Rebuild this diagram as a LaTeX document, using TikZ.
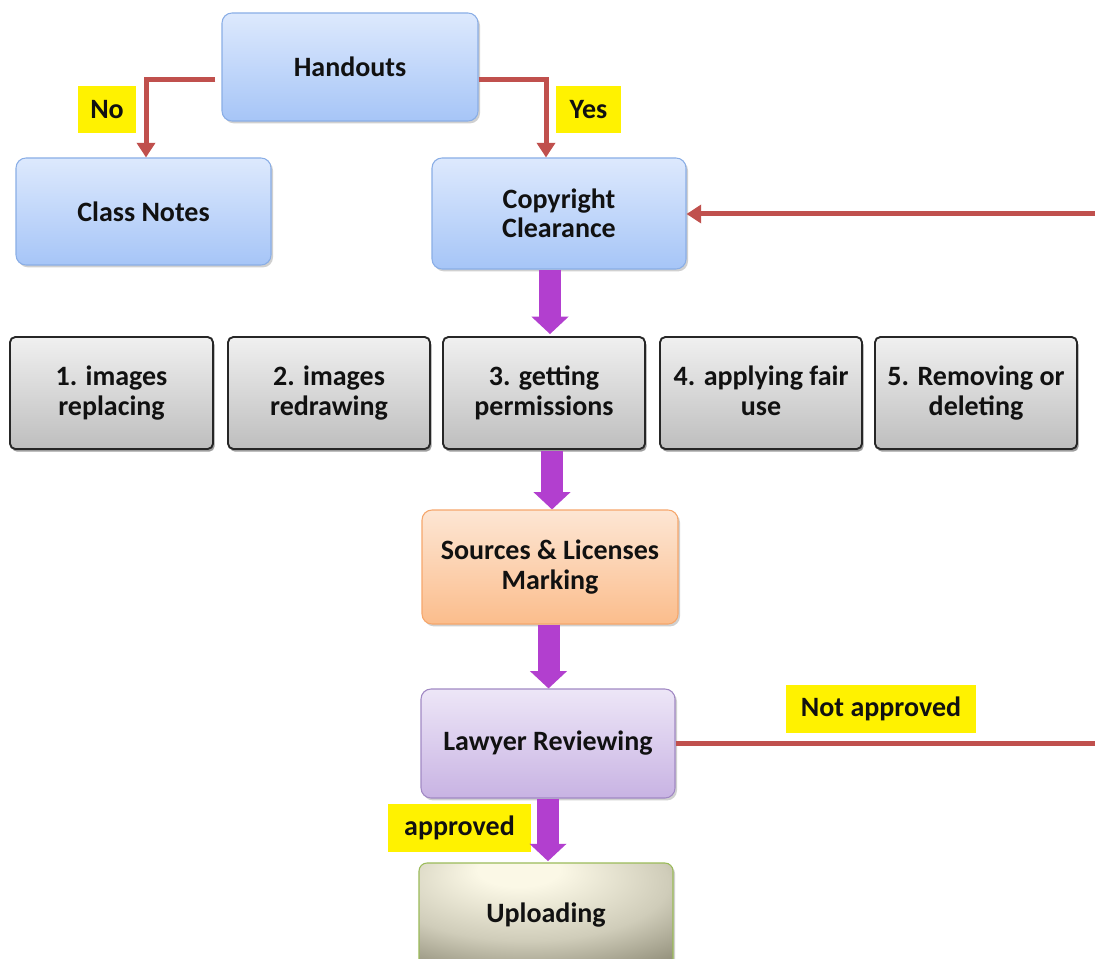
\documentclass[tikz,border=0pt]{standalone}
\usepackage{fontspec}
\setmainfont{Carlito}
\usetikzlibrary{arrows.meta,shadows,calc}
\definecolor{bluetop}{HTML}{DDE9FD}
\definecolor{bluebot}{HTML}{A6C5F7}
\definecolor{blueedge}{HTML}{8AAEE6}
\definecolor{orgtop}{HTML}{FDE6D4}
\definecolor{orgbot}{HTML}{FBBD8C}
\definecolor{orgedge}{HTML}{F6A76C}
\definecolor{purtop}{HTML}{EDE6F7}
\definecolor{purbot}{HTML}{C8B3E3}
\definecolor{puredge}{HTML}{A189C4}
\definecolor{graytop}{HTML}{F0F0F0}
\definecolor{graybot}{HTML}{BEBEBE}
\definecolor{upin}{HTML}{FBF8E6}
\definecolor{upout}{HTML}{7F7C67}
\definecolor{upedge}{HTML}{9BBB59}
\definecolor{redline}{HTML}{C0504D}
\definecolor{purarrow}{HTML}{B23FCF}
\definecolor{txt}{HTML}{111111}
\pgfdeclareradialshading{upshade}{\pgfpoint{-6bp}{24bp}}{color(0bp)=(upin); color(8bp)=(upin); color(28bp)=(upin!65!upout); color(48bp)=(upout); color(80bp)=(upout!85!black)}
\begin{document}
\begin{tikzpicture}[x=0.75pt,y=-0.75pt,
  every node/.style={font=\bfseries\fontsize{21}{22}\selectfont, text=txt, align=center, inner sep=0pt},
  sz/.style 2 args={minimum width=#1*0.75pt, minimum height=#2*0.75pt},
  shad/.style={drop shadow={shadow xshift=1.5pt, shadow yshift=-1.8pt, opacity=0.3, fill=black!60}},
  bluebox/.style={rectangle, rounded corners=7.5pt, draw=blueedge, line width=0.8pt, top color=bluetop, bottom color=bluebot, shad},
  orangebox/.style={rectangle, rounded corners=7.5pt, draw=orgedge, line width=0.8pt, top color=orgtop, bottom color=orgbot, shad},
  purplebox/.style={rectangle, rounded corners=7.5pt, draw=puredge, line width=0.8pt, top color=purtop, bottom color=purbot, shad},
  graybox/.style={rectangle, rounded corners=4pt, draw=black!85, line width=1.4pt, top color=graytop, bottom color=graybot,
    drop shadow={shadow xshift=1.2pt, shadow yshift=-2pt, opacity=0.55, fill=black!70}},
  upbox/.style={rectangle, rounded corners=6pt, draw=upedge, line width=0.8pt, shading=upshade, shad},
  lab/.style={rectangle, fill=yellow},
  redarrow/.style={draw=redline, line width=3.75pt, -{Triangle[width=13.5pt,length=11pt]}},
  redline/.style={draw=redline, line width=3.75pt},
  parrow/.style={draw=purarrow, line width=16.5pt, -{Triangle[width=27pt,length=13pt]}}
]
\clip (0,0) rectangle (1095,959);
\fill[white] (0,0) rectangle (1095,959);

% top
\node[bluebox, sz={256}{108}] (hand) at (350,67) {Handouts};
\node[bluebox, sz={255}{107}] (notes) at (143.5,211.5) {Class Notes};
\node[bluebox, sz={254}{111}] (copy) at (559,213.5) {Copyright\\Clearance};

% gray row
\node[graybox, sz={203}{112}] (g1) at (111.5,393) {1. images\\replacing};
\node[graybox, sz={202}{112}] (g2) at (329,393) {2. images\\redrawing};
\node[graybox, sz={202}{112}] (g3) at (544,393) {3. getting\\permissions};
\node[graybox, sz={202}{112}] (g4) at (761,393) {4. applying fair\\use\vphantom{g}};
\node[graybox, sz={202}{112}] (g5) at (976,393) {5. Removing or\\deleting};

% lower
\node[orangebox, sz={256}{114}] (src) at (550,567) {Sources \& Licenses\\Marking};
\node[purplebox, sz={254}{109}] (law) at (548,743.5) {Lawyer Reviewing};
\node[upbox, sz={254}{104}] (up) at (546,915) {Uploading};

% labels
\node[lab, sz={58}{47}] (lno) at (107,109.5) {No};
\node[lab, sz={65}{47}] (lyes) at (588.5,109.5) {Yes};
\node[lab, sz={190}{48}] (lnot) at (881,709) {Not approved};
\node[lab, sz={143}{48}] (lapp) at (459.5,828) {approved};

% helper coordinates
\coordinate (hy) at (0,80);
\coordinate (xl) at (146,0);
\coordinate (xr) at (546,0);
\coordinate (rin) at (1100,214);
\coordinate (rout) at (1100,743);
\coordinate (pa) at (550,0);
\coordinate (pb) at (552,0);
\coordinate (pc) at (548.5,0);
\coordinate (pd) at (548,0);

% red connectors
\draw[redarrow] ([xshift=-4.5pt]hand.west |- hy) -| (xl |- notes.north);
\draw[redarrow] (hand.east |- hy) -| (xr |- copy.north);
\draw[redarrow] (rin) -- (copy.east |- rin);
\draw[redline] (law.east |- rout) -- (rout);

% purple arrows
\draw[parrow] (pa |- copy.south) -- ([yshift=1.5pt]pa |- g3.north);
\draw[parrow] ([yshift=-1pt]pb |- g3.south) -- (pb |- src.north);
\draw[parrow] (pc |- src.south) -- (pc |- law.north);
\draw[parrow] (pd |- law.south) -- ([yshift=1pt]pd |- up.north);
\end{tikzpicture}
\end{document}
